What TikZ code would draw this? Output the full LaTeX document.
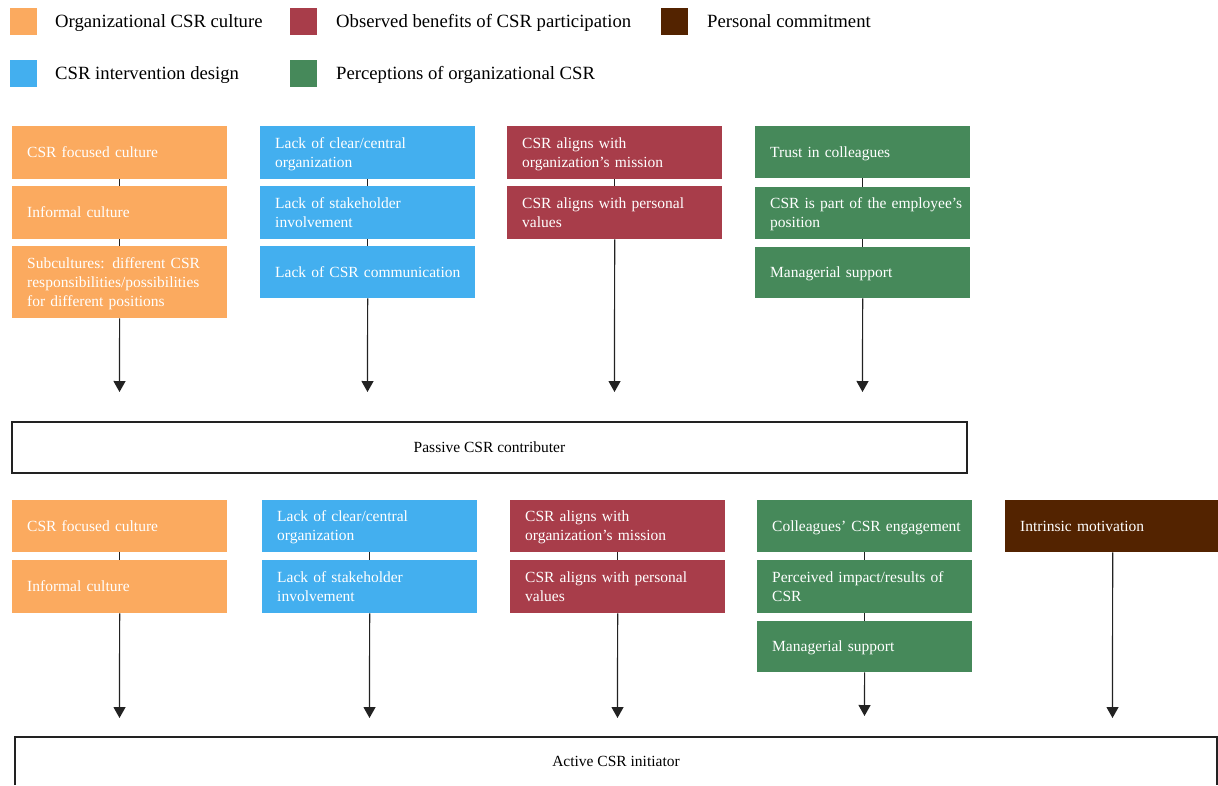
\documentclass[tikz,border=0pt]{standalone}
\usepackage{fontspec}
\setmainfont{Liberation Serif}
\usetikzlibrary{arrows.meta}
\definecolor{cOrange}{HTML}{FBAA5F}
\definecolor{cRed}{HTML}{A83D4A}
\definecolor{cBrown}{HTML}{532300}
\definecolor{cBlue}{HTML}{43AFEF}
\definecolor{cGreen}{HTML}{46895A}
\definecolor{cLine}{HTML}{222222}
\newcommand\boxstrut{\rule[-4.7pt]{0pt}{19pt}}
\begin{document}
\begin{tikzpicture}[x=1pt,y=-1pt,
  item/.style={anchor=north west, minimum width=215pt, text width=185pt,
    inner xsep=15pt, inner ysep=0pt, align=left, text=white,
    font=\fontsize{15.5}{19}\selectfont,
    execute at begin node={\boxstrut}, execute at end node={\boxstrut}},
  swatch/.style={anchor=north west, minimum width=27pt, minimum height=27pt, inner sep=0pt},
  legtext/.style={anchor=base west, inner sep=0pt, font=\fontsize{18.7}{22}\selectfont},
  stage/.style={inner sep=0pt, font=\fontsize{15.5}{19}\selectfont},
  link/.style={draw=cLine, line width=1.2pt},
  flow/.style={link, -{Triangle[width=12pt,length=11pt]}}]
\useasboundingbox (0,0) rectangle (1218,785);

% legend
\node[swatch, fill=cOrange] (sw1) at (10,8) {};
\node[legtext] (lg1) at (55,27.4) {Organizational CSR culture};
\node[swatch, fill=cRed] (sw2) at (290,8) {};
\node[legtext] (lg2) at (336,27.4) {Observed benefits of CSR participation};
\node[swatch, fill=cBrown] (sw3) at (661,8) {};
\node[legtext] (lg3) at (707,27.4) {Personal commitment};
\node[swatch, fill=cBlue] (sw4) at (10,60) {};
\node[legtext] (lg4) at (55,79.4) {CSR intervention design};
\node[swatch, fill=cGreen] (sw5) at (290,60) {};
\node[legtext] (lg5) at (336,79.4) {Perceptions of organizational CSR};

% upper group of factors
\node[item, fill=cOrange, minimum height=53pt] (a1) at (12,126) {CSR focused culture};
\node[item, fill=cOrange, minimum height=53pt] (a2) at (12,186) {Informal culture};
\node[item, fill=cOrange, minimum height=72pt] (a3) at (12,246) {Subcultures: different CSR\\\mbox{responsibilities/possibilities}\\for different positions};

\node[item, fill=cBlue, minimum height=53pt] (b1) at (260,126) {Lack of clear/central\\organization};
\node[item, fill=cBlue, minimum height=53pt] (b2) at (260,186) {Lack of stakeholder\\involvement};
\node[item, fill=cBlue, minimum height=52pt] (b3) at (260,246) {\mbox{Lack of CSR communication}};

\node[item, fill=cRed, minimum height=53pt] (c1) at (507,126) {CSR aligns with\\organization's mission};
\node[item, fill=cRed, minimum height=53pt] (c2) at (507,186) {CSR aligns with personal\\values};

\node[item, fill=cGreen, minimum height=52pt] (d1) at (755,126) {Trust in colleagues};
\node[item, fill=cGreen, minimum height=52pt] (d2) at (755,187) {\mbox{CSR is part of the employee's}\\position};
\node[item, fill=cGreen, minimum height=51pt] (d3) at (755,247) {Managerial support};

\coordinate (ta) at (119.5,392);
\coordinate (tb) at (367.5,392);
\coordinate (tc) at (614.5,392);
\coordinate (td) at (862.5,392);

\draw[link] (a1) -- (a2);
\draw[link] (a2) -- (a3);
\draw[flow] (a3) -- (ta);
\draw[link] (b1) -- (b2);
\draw[link] (b2) -- (b3);
\draw[flow] (b3) -- (tb);
\draw[link] (c1) -- (c2);
\draw[flow] (c2) -- (tc);
\draw[link] (d1) -- (d2);
\draw[link] (d2) -- (d3);
\draw[flow] (d3) -- (td);

% passive stage
\node[stage, draw=cLine, line width=1.5pt, minimum width=955pt, minimum height=51pt] (passive) at (489.5,447.5) {Passive CSR contributer};

% lower group of factors
\node[item, fill=cOrange, minimum height=52pt] (e1) at (12,500) {CSR focused culture};
\node[item, fill=cOrange, minimum height=53pt] (e2) at (12,560) {Informal culture};

\node[item, fill=cBlue, minimum height=52pt] (f1) at (262,500) {Lack of clear/central\\organization};
\node[item, fill=cBlue, minimum height=53pt] (f2) at (262,560) {Lack of stakeholder\\involvement};

\node[item, fill=cRed, minimum height=52pt] (g1) at (510,500) {CSR aligns with\\organization's mission};
\node[item, fill=cRed, minimum height=53pt] (g2) at (510,560) {CSR aligns with personal\\values};

\node[item, fill=cGreen, minimum height=52pt] (h1) at (757,500) {\mbox{Colleagues' CSR engagement}};
\node[item, fill=cGreen, minimum height=53pt] (h2) at (757,560) {\mbox{Perceived impact/results of}\\CSR};
\node[item, fill=cGreen, minimum height=51pt] (h3) at (757,621) {Managerial support};

\node[item, fill=cBrown, minimum height=52pt] (k1) at (1005,500) {Intrinsic motivation};

\coordinate (ua) at (119.5,718);
\coordinate (ub) at (369.5,718);
\coordinate (uc) at (617.5,718);
\coordinate (ud) at (864.5,716);
\coordinate (ue) at (1112.5,718);

\draw[link] (e1) -- (e2);
\draw[flow] (e2) -- (ua);
\draw[link] (f1) -- (f2);
\draw[flow] (f2) -- (ub);
\draw[link] (g1) -- (g2);
\draw[flow] (g2) -- (uc);
\draw[link] (h1) -- (h2);
\draw[link] (h2) -- (h3);
\draw[flow] (h3) -- (ud);
\draw[flow] (k1) -- (ue);

% active stage, running off the lower edge
\node[stage, minimum width=1202pt, minimum height=48pt] (active) at (616,761) {Active CSR initiator};
\draw[cLine, line width=1.5pt] (active.south west) -- (active.north west) -- (active.north east) -- (active.south east);
\end{tikzpicture}
\end{document}
